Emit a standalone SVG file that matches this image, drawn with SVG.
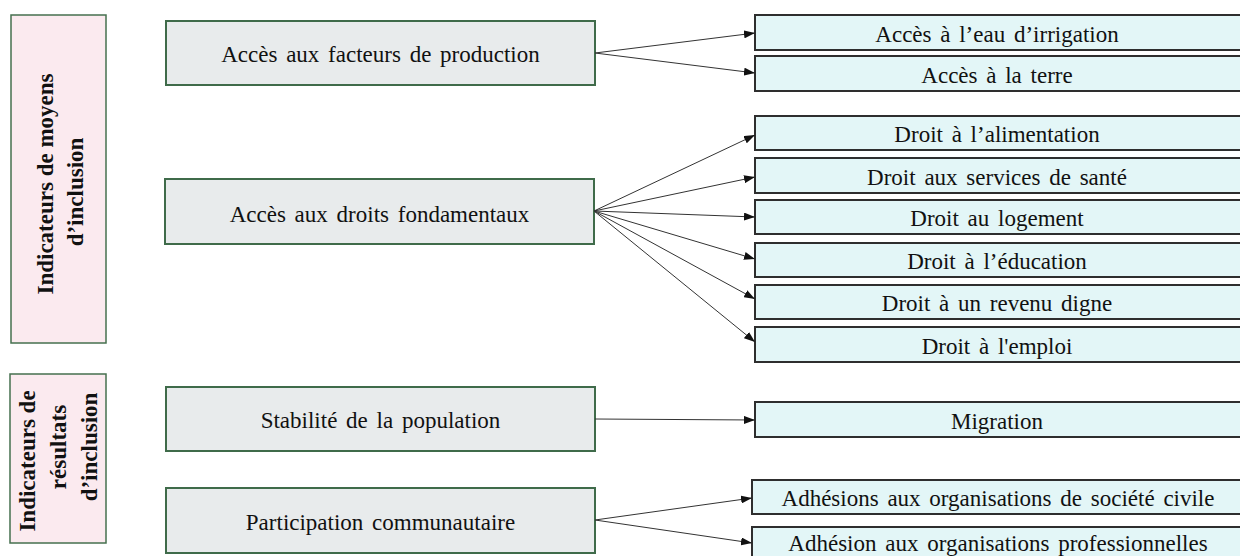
<svg xmlns="http://www.w3.org/2000/svg" width="1240" height="556" viewBox="0 0 1240 556">
<style>
.side{fill:#FBEAEF;stroke:#46704F;stroke-width:1.5}
.mid{fill:#E8EBEC;stroke:#3F6B4A;stroke-width:2}
.leaf{fill:#E3F6F7;stroke:#2E2E2E;stroke-width:2}
.t{font-family:"Liberation Serif","Times New Roman",serif;font-size:23px;word-spacing:3px;fill:#111;text-anchor:middle}
.tb{font-family:"Liberation Serif","Times New Roman",serif;font-size:23px;font-weight:bold;fill:#111;text-anchor:middle}
.c{stroke:#333;stroke-width:1;fill:none;marker-end:url(#ah)}
</style>
<defs>
<marker id="ah" markerUnits="userSpaceOnUse" markerWidth="11" markerHeight="8" refX="11" refY="4" orient="auto">
<path d="M0,0 L11,4 L0,8 z" fill="#111"/>
</marker>
</defs>
<rect width="1240" height="556" fill="#fff"/>

<g id="side-moyens">
<rect class="side" x="11" y="15" width="95" height="328"/>
<text class="tb" transform="translate(0,184) rotate(-90)" x="0" y="53">Indicateurs de moyens</text>
<text class="tb" transform="translate(0,192) rotate(-90)" x="0" y="83">d’inclusion</text>
</g>
<g id="side-resultats">
<rect class="side" x="10" y="374" width="96" height="169"/>
<text class="tb" transform="translate(0,461) rotate(-90)" x="0" y="35">Indicateurs de</text>
<text class="tb" transform="translate(0,447) rotate(-90)" x="0" y="66">résultats</text>
<text class="tb" transform="translate(0,447) rotate(-90)" x="0" y="97">d’inclusion</text>
</g>

<g id="n-facteurs">
<rect class="mid" x="166" y="21" width="429" height="64"/>
<text class="t" x="380.5" y="62">Accès aux facteurs de production</text>
</g>
<g id="n-droits">
<rect class="mid" x="165" y="179" width="429" height="65"/>
<text class="t" x="379.5" y="222">Accès aux droits fondamentaux</text>
</g>
<g id="n-stabilite">
<rect class="mid" x="166" y="387" width="429" height="64"/>
<text class="t" x="380.5" y="428">Stabilité de la population</text>
</g>
<g id="n-participation">
<rect class="mid" x="166" y="488" width="429" height="65"/>
<text class="t" x="380.5" y="530">Participation communautaire</text>
</g>

<g id="n-eau"><rect class="leaf" x="755" y="15" width="490" height="35"/><text class="t" x="997" y="42">Accès à l’eau d’irrigation</text></g>
<g id="n-terre"><rect class="leaf" x="755" y="56" width="490" height="35"/><text class="t" x="997" y="83">Accès à la terre</text></g>
<g id="n-alimentation"><rect class="leaf" x="755" y="116" width="490" height="34"/><text class="t" x="997" y="142">Droit à l’alimentation</text></g>
<g id="n-sante"><rect class="leaf" x="755" y="158" width="490" height="35"/><text class="t" x="997" y="185">Droit aux services de santé</text></g>
<g id="n-logement"><rect class="leaf" x="755" y="200" width="490" height="34"/><text class="t" x="997" y="226">Droit au logement</text></g>
<g id="n-education"><rect class="leaf" x="755" y="243" width="490" height="34"/><text class="t" x="997" y="269">Droit à l’éducation</text></g>
<g id="n-revenu"><rect class="leaf" x="755" y="285" width="490" height="34"/><text class="t" x="997" y="311">Droit à un revenu digne</text></g>
<g id="n-emploi"><rect class="leaf" x="755" y="327" width="490" height="35"/><text class="t" x="997" y="354">Droit à l'emploi</text></g>
<g id="n-migration"><rect class="leaf" x="755" y="402" width="490" height="35"/><text class="t" x="997" y="429">Migration</text></g>
<g id="n-societe"><rect class="leaf" x="752" y="480" width="493" height="34"/><text class="t" x="998" y="506">Adhésions aux organisations de société civile</text></g>
<g id="n-pro"><rect class="leaf" x="752" y="527" width="493" height="40"/><text class="t" x="998" y="551">Adhésion aux organisations professionnelles</text></g>

<g id="connectors">
<line class="c" x1="595" y1="53" x2="755" y2="33"/>
<line class="c" x1="595" y1="53" x2="755" y2="73"/>
<line class="c" x1="594" y1="211" x2="755" y2="135"/>
<line class="c" x1="594" y1="211" x2="755" y2="177"/>
<line class="c" x1="594" y1="211" x2="755" y2="217"/>
<line class="c" x1="594" y1="211" x2="755" y2="259"/>
<line class="c" x1="594" y1="211" x2="755" y2="299"/>
<line class="c" x1="594" y1="211" x2="755" y2="342"/>
<line class="c" x1="595" y1="419" x2="755" y2="420"/>
<line class="c" x1="595" y1="520" x2="752" y2="498"/>
<line class="c" x1="595" y1="520" x2="752" y2="543"/>
</g>
</svg>
